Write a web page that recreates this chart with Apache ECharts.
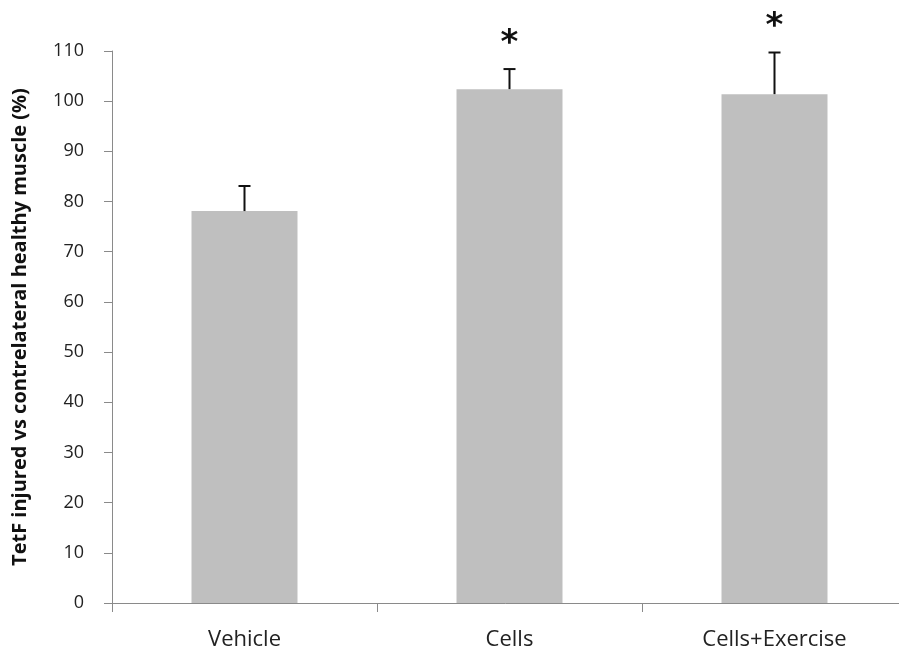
<!DOCTYPE html>
<html>
<head>
<meta charset="utf-8">
<script src="https://cdn.jsdelivr.net/npm/echarts@6/dist/echarts.min.js"></script>
<style>html,body{margin:0;padding:0;background:#fff;}#c{width:899px;height:655px;}</style>
</head>
<body>
<div id="c"></div>
<script>
var categories = ['Vehicle', 'Cells', 'Cells+Exercise'];
var values = [78.1, 102.4, 101.4];
var errors = [5.0, 4.0, 8.3];
var marks = ['', '*', '*'];
var yTicks = [0, 110, 10];

var chart = echarts.init(document.getElementById('c'));
var errData = values.map(function (v, i) { return [i, v, v + errors[i], marks[i]]; });
chart.setOption({
  animation: false,
  backgroundColor: '#fff',
  grid: { left: 112, top: 51, bottom: 52, right: -8, containLabel: false, outerBoundsMode: 'none' },
  xAxis: {
    type: 'category',
    data: categories,
    axisLine: { lineStyle: { color: '#8a8a8a', width: 1 } },
    axisTick: { show: true, length: 9, lineStyle: { color: '#8a8a8a' } },
    axisLabel: { margin: 26, fontSize: 22, color: '#222', fontFamily: 'Open Sans' }
  },
  yAxis: {
    type: 'value',
    min: yTicks[0], max: yTicks[1], interval: yTicks[2],
    name: 'TetF injured vs contrelateral healthy muscle (%)',
    nameLocation: 'middle',
    nameGap: 82,
    nameTextStyle: { fontSize: 20, fontWeight: 'bold', color: '#111', fontFamily: 'Open Sans' },
    axisLine: { show: true, lineStyle: { color: '#8a8a8a', width: 1 } },
    axisTick: { show: true, length: 8, lineStyle: { color: '#8a8a8a' } },
    splitLine: { show: false },
    axisLabel: { margin: 28, fontSize: 18, color: '#222', fontFamily: 'Open Sans' }
  },
  series: [
    {
      type: 'bar',
      data: values,
      barWidth: '40%',
      itemStyle: { color: '#bfbfbf' }
    },
    {
      type: 'custom',
      data: errData,
      z: 10,
      renderItem: function (params, api) {
        var x = api.value(0);
        var lo = api.coord([x, api.value(1)]);
        var hi = api.coord([x, api.value(2)]);
        var half = 6;
        var children = [
          { type: 'line', shape: { x1: lo[0], y1: lo[1], x2: hi[0], y2: hi[1] }, style: { stroke: '#111', lineWidth: 2 } },
          { type: 'line', shape: { x1: hi[0] - half, y1: hi[1], x2: hi[0] + half, y2: hi[1] }, style: { stroke: '#111', lineWidth: 2 } }
        ];
        var m = api.value(3);
        if (m) {
          children.push({ type: 'text', style: { text: m, x: hi[0], y: hi[1] - 25, align: 'center', verticalAlign: 'middle', fontSize: 34, fontWeight: 'bold', fill: '#111', fontFamily: 'DejaVu Sans' } });
        }
        return { type: 'group', children: children };
      }
    }
  ]
});
</script>
</body>
</html>
